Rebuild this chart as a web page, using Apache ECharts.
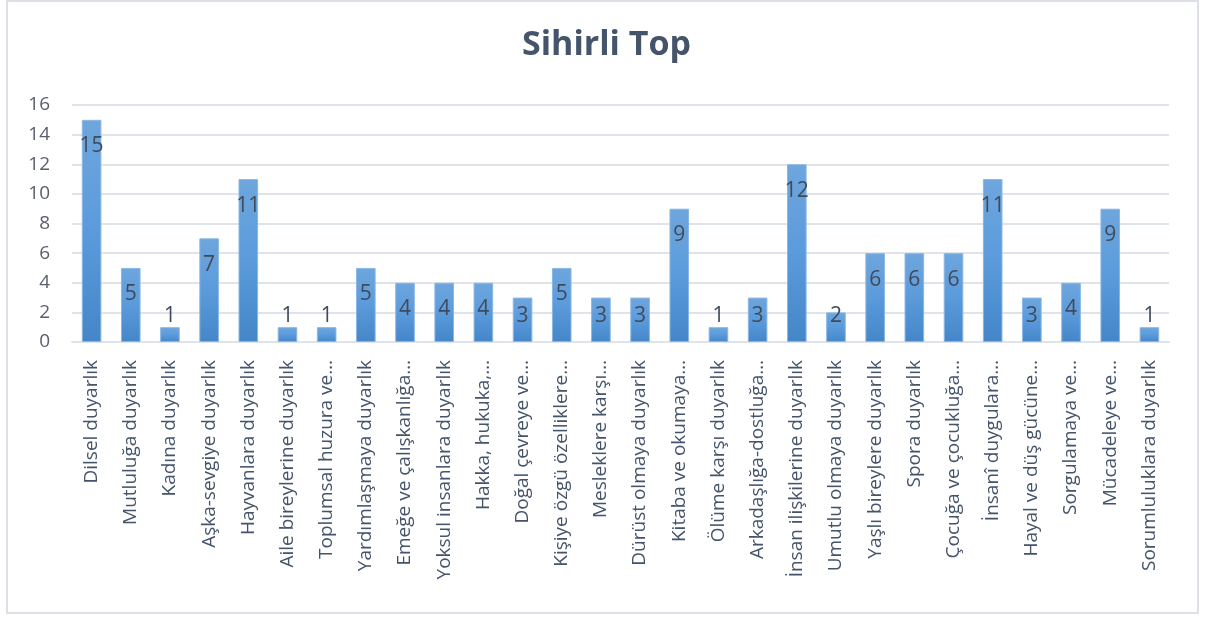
<!DOCTYPE html>
<html>
	<head>
		<meta charset="utf-8">
		<title>Sihirli Top</title>
		<script type="text/javascript" src="https://cdn.jsdelivr.net/npm/echarts@6/dist/echarts.min.js"></script>
		<style>
			html, body { margin: 0; padding: 0; background: #ffffff; }
			#main { width: 1213px; height: 619px; }
		</style>
	</head>
	<body>
		<div id="main"></div>
		<script type="text/javascript">
			// 数据
			var categories = [
				'Dilsel duyarlık', 'Mutluluğa duyarlık', 'Kadına duyarlık', 'Aşka-sevgiye duyarlık',
				'Hayvanlara duyarlık', 'Aile bireylerine duyarlık', 'Toplumsal huzura ve…', 'Yardımlaşmaya duyarlık',
				'Emeğe ve çalışkanlığa…', 'Yoksul insanlara duyarlık', 'Hakka, hukuka,…', 'Doğal çevreye ve…',
				'Kişiye özgü özelliklere…', 'Mesleklere karşı…', 'Dürüst olmaya duyarlık', 'Kitaba ve okumaya…',
				'Ölüme karşı duyarlık', 'Arkadaşlığa-dostluğa…', 'İnsan ilişkilerine duyarlık', 'Umutlu olmaya duyarlık',
				'Yaşlı bireylere duyarlık', 'Spora duyarlık', 'Çocuğa ve çocukluğa…', 'İnsanî duygulara…',
				'Hayal ve düş gücüne…', 'Sorgulamaya ve…', 'Mücadeleye ve…', 'Sorumluluklara duyarlık'
			];
			var values = [15, 5, 1, 7, 11, 1, 1, 5, 4, 4, 4, 3, 5, 3, 3, 9, 1, 3, 12, 2, 6, 6, 6, 11, 3, 4, 9, 1];
			var yTicks = [0, 2, 4, 6, 8, 10, 12, 14, 16];

			// 短柱的标签放在底部，其余放在顶部内侧
			var barData = values.map(function(v) {
				if (v <= 3) {
					return { value: v, label: { position: 'insideBottom', distance: 15 } };
				}
				return v;
			});

			var myChart = echarts.init(document.getElementById('main'));
			var option = {
				backgroundColor: '#ffffff',
				title: {
					text: 'Sihirli Top',
					left: 'center',
					top: 23,
					textStyle: {
						fontFamily: 'Open Sans',
						fontSize: 34,
						fontWeight: 'bold',
						color: '#44546a'
					}
				},
				graphic: [{
					type: 'rect',
					shape: { x: 7, y: 1, width: 1191, height: 612 },
					style: { fill: 'none', stroke: '#dde1e7', lineWidth: 2 },
					silent: true
				}],
				grid: {
					left: 72,
					right: 44,
					top: 105,
					bottom: 277
				},
				xAxis: {
					type: 'category',
					data: categories,
					axisTick: { show: false },
					axisLine: { lineStyle: { color: '#dfe3ea', width: 2 } },
					axisLabel: {
						rotate: 90,
						interval: 0,
						margin: 18,
						fontFamily: 'Open Sans',
						fontSize: 19,
						color: '#44546a'
					}
				},
				yAxis: {
					type: 'value',
					min: yTicks[0],
					max: yTicks[yTicks.length - 1],
					interval: 2,
					axisLine: { show: false },
					axisTick: { show: false },
					splitLine: { lineStyle: { color: '#dfe3ea', width: 2 } },
					axisLabel: {
						margin: 22,
						fontFamily: 'Open Sans',
						fontSize: 19,
						color: '#595f6b'
					}
				},
				series: [{
					type: 'bar',
					data: barData,
					barWidth: '50%',
					itemStyle: {
						color: new echarts.graphic.LinearGradient(0, 0, 0, 1, [
							{ offset: 0, color: '#6ea6dd' },
							{ offset: 0.5, color: '#5b9bdc' },
							{ offset: 1, color: '#4486c8' }
						]),
						borderColor: '#8ab6e4',
						borderWidth: 1
					},
					label: {
						show: true,
						position: 'insideTop',
						distance: 16,
						fontFamily: 'Open Sans',
						fontSize: 21,
						color: '#404a5a'
					}
				}]
			};
			myChart.setOption(option);
		</script>
	</body>
</html>
